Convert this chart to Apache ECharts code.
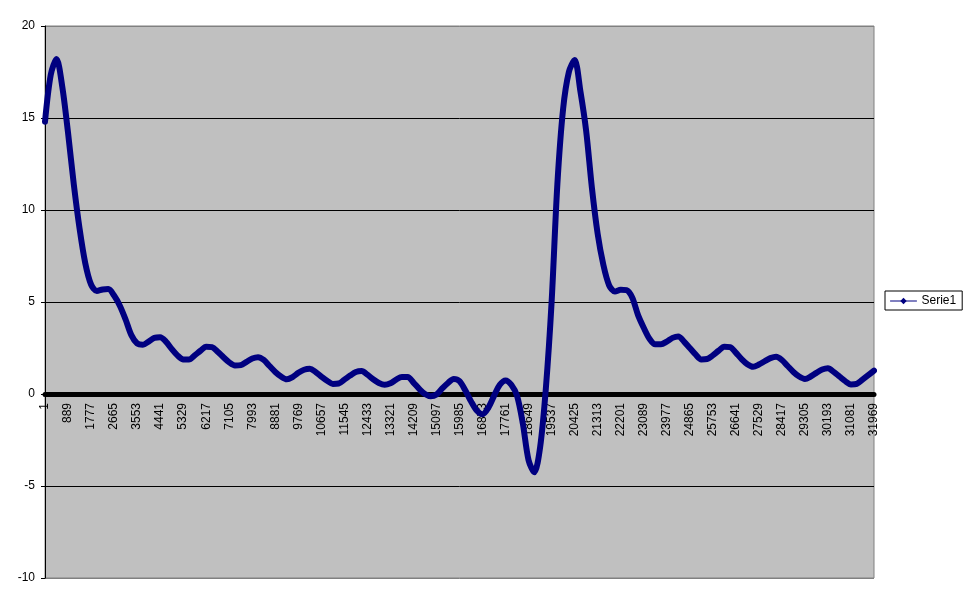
<!DOCTYPE html>
<html>
<head>
<meta charset="utf-8">
<script src="https://cdn.jsdelivr.net/npm/echarts@6/dist/echarts.min.js"></script>
<style>
html,body{margin:0;padding:0;background:#fff;}
#chart{width:970px;height:604px;}
</style>
</head>
<body>
<div id="chart"></div>
<script>
// Sampled category positions (every 222nd point of the original series)
const categories = [1,223,445,667,889,1111,1333,1555,1777,1999,2221,2443,2665,2887,3109,3331,3553,3775,3997,4219,4441,4663,4885,5107,5329,5551,5773,5995,6217,6439,6661,6883,7105,7327,7549,7771,7993,8215,8437,8659,8881,9103,9325,9547,9769,9991,10213,10435,10657,10879,11101,11323,11545,11767,11989,12211,12433,12655,12877,13099,13321,13543,13765,13987,14209,14431,14653,14875,15097,15319,15541,15763,15985,16207,16429,16651,16873,17095,17317,17539,17761,17983,18205,18427,18649,18871,19093,19315,19537,19759,19981,20203,20425,20647,20869,21091,21313,21535,21757,21979,22201,22423,22645,22867,23089,23311,23533,23755,23977,24199,24421,24643,24865,25087,25309,25531,25753,25975,26197,26419,26641,26863,27085,27307,27529,27751,27973,28195,28417,28639,28861,29083,29305,29527,29749,29971,30193,30415,30637,30859,31081,31303,31525,31747,31969].map(String);

// Tick labels shown on the category axis
const tickLabels = [1,889,1777,2665,3553,4441,5329,6217,7105,7993,8881,9769,10657,11545,12433,13321,14209,15097,15985,16873,17761,18649,19537,20425,21313,22201,23089,23977,24865,25753,26641,27529,28417,29305,30193,31081,31969].map(String);

// Serie1 values
const serie1 = [
14.8,17.35,18.2,16.7,14.2,11.4,9.0,7.1,5.95,5.6,
5.68,5.7,5.35,4.8,4.05,3.2,2.75,2.68,2.85,3.05,
3.08,2.85,2.45,2.1,1.88,1.87,2.1,2.35,2.57,2.55,
2.3,2.0,1.72,1.55,1.57,1.75,1.93,2.0,1.85,1.52,
1.2,0.95,0.8,0.92,1.15,1.32,1.37,1.2,0.95,0.72,
0.55,0.57,0.78,1.0,1.2,1.25,1.05,0.8,0.6,0.5,
0.58,0.78,0.93,0.93,0.62,0.28,0.0,-0.12,-0.03,0.3,
0.6,0.82,0.7,0.2,-0.4,-0.9,-1.1,-0.75,-0.1,0.5,
0.74,0.5,-0.1,-1.6,-3.6,-4.25,-2.9,0.3,5.0,11.4,
15.5,17.5,18.15,16.45,14.3,11.2,8.7,7.0,5.9,5.57,
5.67,5.65,5.25,4.3,3.6,3.0,2.7,2.7,2.85,3.05,
3.13,2.85,2.5,2.15,1.88,1.9,2.1,2.35,2.57,2.55,
2.25,1.9,1.62,1.48,1.6,1.78,1.95,2.03,1.85,1.52,
1.2,0.95,0.82,0.95,1.15,1.33,1.4,1.2,0.95,0.7,
0.52,0.55,0.78,1.02,1.27
];

const yMin = -10, yMax = 20, yStep = 5;

const tickSet = new Set(tickLabels);
const chart = echarts.init(document.getElementById('chart'), null, {renderer: 'canvas'});
const option = {
  animation: false,
  backgroundColor: '#ffffff',
  textStyle: {fontFamily: "'Liberation Sans', Arial, sans-serif"},
  grid: {
    left: 45, top: 26, right: 96, bottom: 26,
    outerBoundsMode: 'none', containLabel: false,
    show: true, backgroundColor: '#c0c0c0', borderColor: '#808080', borderWidth: 1
  },
  legend: {
    data: ['Serie1'],
    left: 885, top: 291,
    orient: 'vertical',
    padding: [4, 6, 3, 5],
    itemWidth: 26, itemHeight: 8, itemGap: 0,
    backgroundColor: '#ffffff', borderColor: '#000000', borderWidth: 1, borderRadius: 0,
    textStyle: {fontSize: 12, color: '#000000'},
    lineStyle: {width: 1, color: '#000080'},
    itemStyle: {color: '#000080'},
    selectedMode: false
  },
  xAxis: {
    type: 'category',
    data: categories,
    boundaryGap: false,
    position: 'bottom',
    offset: 0,
    axisLine: {onZero: false, lineStyle: {color: '#000000', width: 5}},
    axisTick: {show: false},
    axisLabel: {
      interval: (i, v) => tickSet.has(v),
      rotate: 90, fontSize: 12, color: '#000000', margin: 9, hideOverlap: false
    },
    splitLine: {show: false}
  },
  yAxis: {
    type: 'value',
    min: yMin, max: yMax, interval: yStep,
    axisLine: {show: true, lineStyle: {color: '#000000', width: 1}},
    axisTick: {show: true, length: 4, lineStyle: {color: '#000000'}},
    axisLabel: {fontSize: 12, color: '#000000', margin: 10},
    splitLine: {show: true, lineStyle: {color: ['#808080','#000000','#000000','#000000','#000000','#000000','#808080'], width: 1}}
  },
  series: [{
    name: 'Serie1',
    type: 'line',
    data: serie1,
    smooth: 0.3,
    symbol: 'diamond',
    symbolSize: 7,
    showSymbol: false,
    lineStyle: {color: '#000080', width: 6, cap: 'round', join: 'round'},
    itemStyle: {color: '#000080'},
    emphasis: {disabled: true},
    z: 3
  }]
};
chart.setOption(option);
// Move the category axis (line + labels) up to the value 0, as the axis crosses there
const zeroY = chart.convertToPixel({yAxisIndex: 0}, 0);
const bottomY = chart.convertToPixel({yAxisIndex: 0}, yMin);
chart.setOption({xAxis: {offset: -(bottomY - zeroY)}});
</script>
</body>
</html>
